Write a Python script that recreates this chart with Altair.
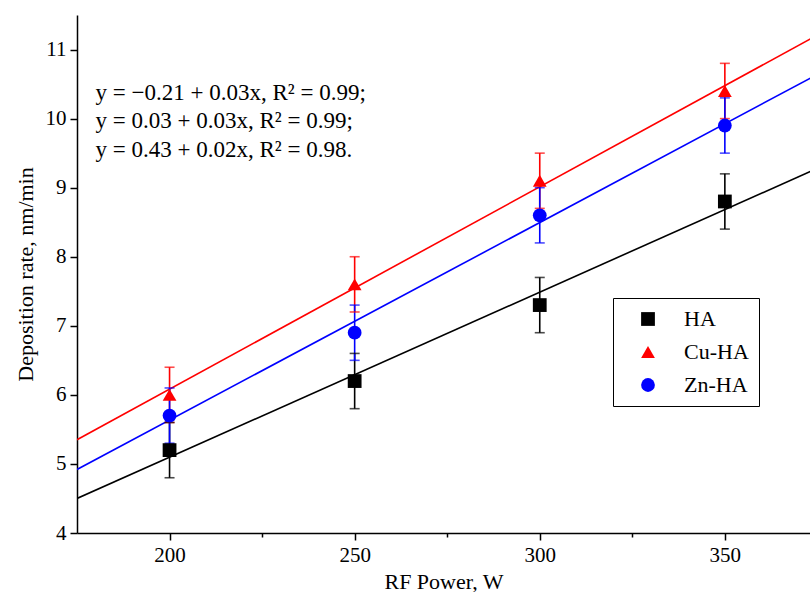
import altair as alt
import pandas as pd

# ---- data ----
power = [200, 250, 300, 350]
series = ["HA", "Cu-HA", "Zn-HA"]
ha = [5.2, 6.2, 7.3, 8.8]
ha_err = [0.4, 0.4, 0.4, 0.4]
cu = [6.0, 7.6, 9.1, 10.4]
cu_err = [0.4, 0.4, 0.4, 0.4]
zn = [5.7, 6.9, 8.6, 9.9]
zn_err = [0.4, 0.4, 0.4, 0.4]

fit_x = [175, 375]
ha_fit = [4.50, 9.28]
cu_fit = [5.35, 11.21]
zn_fit = [4.92, 10.64]

eq_text = [
    "y = \u22120.21 + 0.03x, R\u00b2 = 0.99;",
    "y = 0.03 + 0.03x, R\u00b2 = 0.99;",
    "y = 0.43 + 0.02x, R\u00b2 = 0.98.",
]
eq_x = [180, 180, 180]
eq_y = [10.37, 9.96, 9.55]

colors = ["#000000", "#ff0000", "#0000ff"]
shapes = ["square", "triangle-up", "circle"]
FONT = "Liberation Serif"

# ---- tables ----
rows = []
for name, vals, errs in [("HA", ha, ha_err), ("Cu-HA", cu, cu_err), ("Zn-HA", zn, zn_err)]:
    for p, v, e in zip(power, vals, errs):
        rows.append({"power": p, "rate": v, "lo": v - e, "hi": v + e, "series": name})
pts = pd.DataFrame(rows)

frows = []
for name, vals in [("HA", ha_fit), ("Cu-HA", cu_fit), ("Zn-HA", zn_fit)]:
    for xx, v in zip(fit_x, vals):
        frows.append({"power": xx, "rate": v, "series": name})
fits = pd.DataFrame(frows)

caps = pd.concat([
    pts[["power", "lo", "series"]].rename(columns={"lo": "val"}),
    pts[["power", "hi", "series"]].rename(columns={"hi": "val"}),
])

eqs = pd.DataFrame({"x": eq_x, "y": eq_y, "t": eq_text})

xscale = alt.Scale(domain=[175, 373], nice=False, zero=False)
yscale = alt.Scale(domain=[4, 11.5], nice=False, zero=False)

def cs():
    return alt.Scale(domain=series, range=colors)

def leg():
    return alt.Legend(
        title=None, orient="none", legendX=536, legendY=283,
        strokeColor="#000000", padding=10, fillColor="white",
        labelFont=FONT, labelFontSize=22, labelColor="#000000",
        symbolSize=190, symbolOffset=14, labelOffset=25, rowPadding=11,
        symbolStrokeWidth=0,
    )

xaxis = alt.Axis(
    title="RF Power, W",
    values=[200, 225, 250, 275, 300, 325, 350, 375],
    labelExpr="datum.value % 50 == 0 ? datum.label : ''",
    tickSize={"condition": {"test": "datum.value % 50 != 0", "value": 4}, "value": 7},
    grid=False,
)
yaxis = alt.Axis(
    title="Deposition rate, nm/min",
    values=[4, 4.5, 5, 5.5, 6, 6.5, 7, 7.5, 8, 8.5, 9, 9.5, 10, 10.5, 11, 11.5],
    labelExpr="datum.value % 1 == 0 ? format(datum.value, 'd') : ''",
    tickSize={"condition": {"test": "datum.value % 1 != 0", "value": 4}, "value": 7},
    grid=False,
)

lines = alt.Chart(fits).mark_line(strokeWidth=1.6, clip=True).encode(
    x=alt.X("power:Q", scale=xscale, axis=xaxis),
    y=alt.Y("rate:Q", scale=yscale, axis=yaxis),
    color=alt.Color("series:N", scale=cs(), legend=None),
    detail="series:N",
)

bars = alt.Chart(pts).mark_rule(strokeWidth=1.6).encode(
    x=alt.X("power:Q", scale=xscale),
    y=alt.Y("lo:Q", scale=yscale),
    y2="hi:Q",
    color=alt.Color("series:N", scale=cs(), legend=None),
)

capmarks = alt.Chart(caps).mark_tick(orient="horizontal", size=10, thickness=1.6).encode(
    x=alt.X("power:Q", scale=xscale),
    y=alt.Y("val:Q", scale=yscale),
    color=alt.Color("series:N", scale=cs(), legend=None),
)

points = alt.Chart(pts).mark_point(filled=True, opacity=1, size=190).encode(
    x=alt.X("power:Q", scale=xscale),
    y=alt.Y("rate:Q", scale=yscale),
    color=alt.Color("series:N", scale=cs(), legend=leg()),
    shape=alt.Shape("series:N", scale=alt.Scale(domain=series, range=shapes), legend=leg()),
)

text = alt.Chart(eqs).mark_text(align="left", baseline="middle", font=FONT, fontSize=23, color="#000000").encode(
    x=alt.X("x:Q", scale=xscale),
    y=alt.Y("y:Q", scale=yscale),
    text="t:N",
)

chart = alt.layer(lines, bars, capmarks, points, text).resolve_scale(
    color="independent", shape="independent"
).properties(
    width=733, height=518,
    autosize=alt.AutoSizeParams(type="none"),
    padding={"left": 77, "top": 15, "right": 0, "bottom": 59},
    background="white",
).configure_view(stroke=None).configure_axis(
    domainColor="#000000", domainWidth=1.5, tickColor="#000000", tickWidth=1.5,
    labelFont=FONT, labelFontSize=21, labelColor="#000000",
    titleFont=FONT, titleFontSize=22, titleColor="#000000", titleFontWeight="normal",
).configure_axisX(labelPadding=4, titlePadding=6).configure_axisY(labelPadding=4, titlePadding=8)

chart.save("out.html", embed_options={"renderer": "svg", "actions": False})
